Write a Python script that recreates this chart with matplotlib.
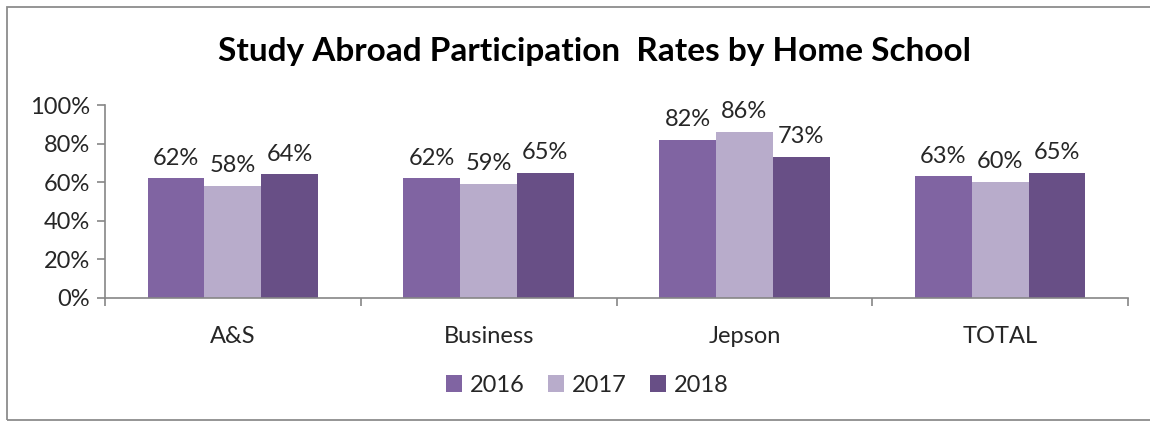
import matplotlib.pyplot as plt
import numpy as np
from matplotlib.patches import Rectangle

# data
schools = ['A&S', 'Business', 'Jepson', 'TOTAL']
years = ['2016', '2017', '2018']
rates_2016 = [62, 62, 82, 63]
rates_2017 = [58, 59, 86, 60]
rates_2018 = [64, 65, 73, 65]
colors = ['#8064A2', '#B8ACCB', '#684F86']

plt.rcParams['font.family'] = ['Lato', 'DejaVu Sans']

fig = plt.figure(figsize=(11.5, 4.24), dpi=100)
ax = fig.add_axes([105 / 1150, 1 - 298 / 424, (1128 - 105) / 1150, (298 - 105) / 424])

# outer chart frame
fig.patches.append(Rectangle((7 / 1150, 4 / 424), 1.2, 1 - 11 / 424,
                             transform=fig.transFigure, fill=False,
                             edgecolor='#8c8c8c', linewidth=1.3))

x = np.arange(len(schools))
bar_w = 0.222
series = [rates_2016, rates_2017, rates_2018]
for i, (vals, yr, col) in enumerate(zip(series, years, colors)):
    pos = x + (i - 1) * bar_w
    ax.bar(pos, vals, width=bar_w, color=col, label=yr, zorder=2)
    for p, v in zip(pos, vals):
        ax.annotate(f'{v}%', xy=(p, v), xytext=(0, 7), textcoords='offset points',
                    ha='center', va='bottom', fontsize=17, color='#262626')

ax.set_xlim(-0.5, len(schools) - 0.5)
ax.set_ylim(0, 100)
ax.set_yticks(np.arange(0, 101, 20))
ax.set_yticklabels([f'{t}%' for t in range(0, 101, 20)])

# category ticks sit on the group boundaries
ax.set_xticks(np.arange(-0.5, len(schools), 1.0))
ax.set_xticklabels([])
ax.set_xticks(x, minor=True)
ax.set_xticklabels(schools, minor=True)
ax.tick_params(axis='x', which='major', direction='out', length=6, color='#868686', width=1.2)
ax.tick_params(axis='x', which='minor', length=0, pad=20, labelsize=17, labelcolor='#262626')
ax.tick_params(axis='y', direction='out', length=6, color='#868686', width=1.2,
               labelsize=17, labelcolor='#262626', pad=5)

for s in ['top', 'right']:
    ax.spines[s].set_visible(False)
for s in ['left', 'bottom']:
    ax.spines[s].set_color('#868686')
    ax.spines[s].set_linewidth(1.2)

fig.text(0.517, 1 - 52 / 424, 'Study Abroad Participation  Rates by Home School',
         ha='center', va='center', fontsize=24, fontweight='bold', color='#000000')

fig.legend(loc='center', bbox_to_anchor=(587 / 1150, 1 - 385 / 424), ncol=3, frameon=False,
           fontsize=17, handlelength=0.7, handleheight=0.7, handletextpad=0.3,
           columnspacing=1.0, labelcolor='#262626')

fig.savefig('out.png', dpi=100)
